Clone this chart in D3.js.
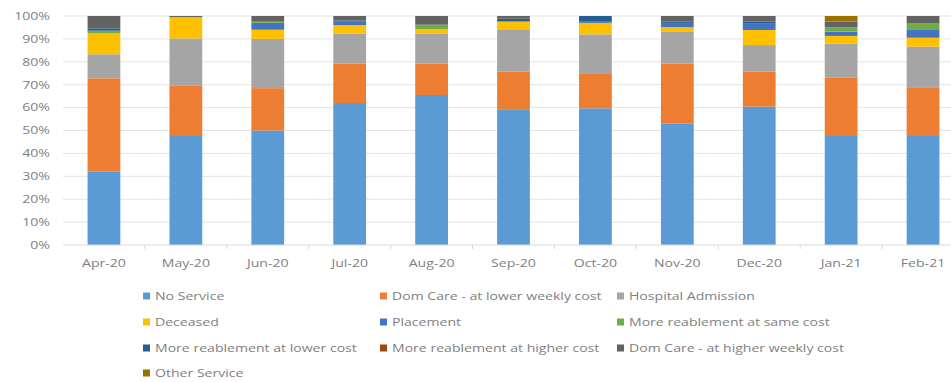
<!DOCTYPE html>
<html>
<head>
<meta charset="utf-8">
<script src="https://cdn.jsdelivr.net/npm/d3@7"></script>
<style>
  html, body { margin: 0; padding: 0; background: #ffffff; }
  svg text { font-family: "Open Sans", "Liberation Sans", sans-serif; }
</style>
</head>
<body>
<svg id="chart" width="951" height="382"></svg>
<script>
// Monthly outcomes, percent of cases per month (each column sums to 100)
const months = ["Apr-20", "May-20", "Jun-20", "Jul-20", "Aug-20", "Sep-20", "Oct-20", "Nov-20", "Dec-20", "Jan-21", "Feb-21"];

const seriesNames = [
  "No Service",
  "Dom Care - at lower weekly cost",
  "Hospital Admission",
  "Deceased",
  "Placement",
  "More reablement at same cost",
  "More reablement at lower cost",
  "More reablement at higher cost",
  "Dom Care - at higher weekly cost",
  "Other Service"
];

const noService        = [32.0, 48.0, 50.0, 62.0, 65.5, 59.3, 59.7, 53.1, 60.4, 48.0, 48.0];
const domCareLower     = [40.8, 21.5, 18.5, 17.3, 13.8, 16.4, 15.3, 26.2, 15.3, 25.2, 20.9];
const hospital         = [10.5, 20.7, 21.5, 13.0, 13.1, 18.5, 17.0, 14.0, 11.6, 14.8, 17.7];
const deceased         = [ 9.1,  9.3,  4.0,  3.7,  1.9,  3.4,  5.0,  1.8,  6.6,  3.3,  3.9];
const placement        = [ 0.0,  0.0,  3.0,  1.5,  0.0,  0.0,  0.5,  1.9,  3.0,  1.9,  3.4];
const reableSame       = [ 1.2,  0.0,  0.5,  0.0,  1.9,  0.0,  0.0,  0.0,  0.0,  1.9,  2.8];
const reableLower      = [ 1.0,  0.0,  0.0,  0.5,  0.0,  1.2,  2.5,  0.5,  0.6,  0.0,  0.0];
const reableHigher     = [ 0.0,  0.0,  0.0,  0.0,  0.0,  0.0,  0.0,  0.0,  0.0,  0.0,  0.0];
const domCareHigher    = [ 5.4,  0.5,  2.5,  2.0,  3.8,  1.2,  0.0,  2.5,  2.5,  2.5,  3.3];
const otherService     = [ 0.0,  0.0,  0.0,  0.0,  0.0,  0.0,  0.0,  0.0,  0.0,  2.4,  0.0];

const seriesValues = [noService, domCareLower, hospital, deceased, placement,
                      reableSame, reableLower, reableHigher, domCareHigher, otherService];

const yTicks = [0, 10, 20, 30, 40, 50, 60, 70, 80, 90, 100];

const colors = ["#5B9BD5", "#ED7D31", "#A5A5A5", "#FFC000", "#4472C4",
                "#70AD47", "#255E91", "#9E480E", "#636363", "#997300"];

// Text in this chart is set slightly wide
const textStretch = 1.28;
const textColor = "#808080";

// Build rows for d3.stack
const rows = months.map((m, i) => {
  const r = { month: m };
  seriesNames.forEach((s, k) => { r[s] = seriesValues[k][i]; });
  return r;
});

const svg = d3.select("#chart");

const x = d3.scaleBand().domain(months).range([63, 964]).padding(0);
const y = d3.scaleLinear().domain([0, 100]).range([245, 16]);
const barWidth = x.bandwidth() * 0.4;

// Horizontal gridlines
svg.append("g")
  .selectAll("line")
  .data(yTicks.filter(t => t > 0))
  .join("line")
  .attr("x1", 63).attr("x2", 951)
  .attr("y1", d => y(d)).attr("y2", d => y(d))
  .attr("stroke", "#e3e3e3").attr("stroke-width", 1);

// Y-axis labels
svg.append("g")
  .selectAll("text")
  .data(yTicks)
  .join("text")
  .attr("transform", d => `translate(50,${y(d)}) scale(${textStretch},1)`)
  .attr("dy", "0.35em")
  .attr("text-anchor", "end")
  .attr("font-size", 11)
  .attr("fill", textColor)
  .text(d => d + "%");

// Stacked bars
const stack = d3.stack().keys(seriesNames);
const layers = stack(rows);

svg.append("g")
  .selectAll("g")
  .data(layers)
  .join("g")
  .attr("fill", (d, i) => colors[i])
  .selectAll("rect")
  .data(d => d)
  .join("rect")
  .attr("x", d => x(d.data.month) + (x.bandwidth() - barWidth) / 2)
  .attr("width", barWidth)
  .attr("y", d => y(d[1]))
  .attr("height", d => Math.max(0, y(d[0]) - y(d[1])));

// Category axis with ticks between categories
const xAxis = svg.append("g");
xAxis.append("line")
  .attr("x1", 63).attr("x2", 951)
  .attr("y1", y(0)).attr("y2", y(0))
  .attr("stroke", "#d9d9d9");
xAxis.selectAll("line.tick")
  .data(months.slice(1))
  .join("line")
  .attr("class", "tick")
  .attr("x1", d => x(d)).attr("x2", d => x(d))
  .attr("y1", y(0)).attr("y2", y(0) + 4)
  .attr("stroke", "#d9d9d9");
xAxis.selectAll("text")
  .data(months)
  .join("text")
  .attr("transform", d => `translate(${x(d) + x.bandwidth() / 2},263) scale(${textStretch},1)`)
  .attr("dy", "0.35em")
  .attr("text-anchor", "middle")
  .attr("font-size", 11)
  .attr("fill", textColor)
  .text(d => d);

// Legend: three columns, four rows
const colX = [143, 380, 617];
const rowY = [296, 322, 348, 373];
const legend = svg.append("g")
  .selectAll("g")
  .data(seriesNames)
  .join("g")
  .attr("transform", (d, i) => `translate(${colX[i % 3]},${rowY[Math.floor(i / 3)]})`);
legend.append("rect")
  .attr("x", 0).attr("y", -3.5)
  .attr("width", 7).attr("height", 7)
  .attr("fill", (d, i) => colors[i]);
legend.append("text")
  .attr("transform", `translate(12,0) scale(${textStretch},1)`)
  .attr("dy", "0.35em")
  .attr("font-size", 11)
  .attr("fill", textColor)
  .text(d => d);
</script>
</body>
</html>
